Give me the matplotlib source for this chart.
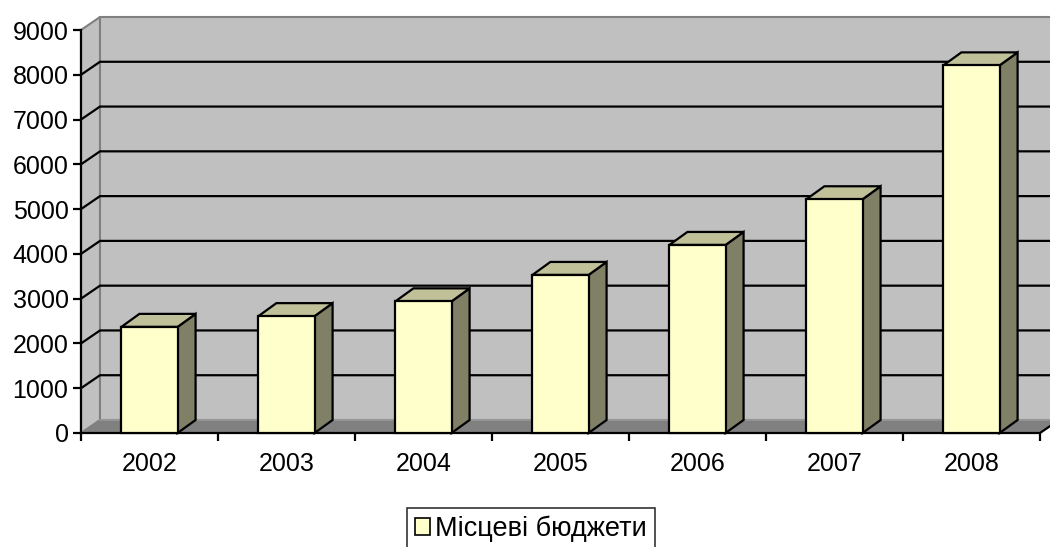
import matplotlib.pyplot as plt
from matplotlib.patches import Polygon, Rectangle, Patch

years = ["2002", "2003", "2004", "2005", "2006", "2007", "2008"]
values = [2370, 2610, 2940, 3530, 4200, 5220, 8210]
series_name = "Місцеві бюджети"

plt.rcParams['font.family'] = ['Liberation Sans', 'DejaVu Sans']

W, H = 1050, 547
fig = plt.figure(figsize=(W / 100, H / 100), dpi=100)
# front plane of the box in pixels: x 81..1040, y 433..30
ax = fig.add_axes([81 / W, 1 - 433 / H, 959 / W, 403 / H])
ymax = 9000
ax.set_xlim(0, len(years))
ax.set_ylim(0, ymax)
ax.patch.set_visible(False)

# depth offset (in data units) for walls and for the bars
dx = 19 / 137
dy = 13 / 403 * ymax
bdx = 18 / 137
bdy = 13 / 403 * ymax

wall = "#c0c0c0"
edge = "#808080"
lw = 1.5

# left wall
ax.add_patch(Polygon([(0, 0), (dx, dy), (dx, ymax + dy), (0, ymax)],
                     closed=True, facecolor=wall, edgecolor=edge, lw=lw, clip_on=False, zorder=1))
# back wall
ax.add_patch(Rectangle((dx, dy), len(years), ymax, facecolor=wall, edgecolor=edge,
                       lw=lw, clip_on=False, zorder=1))
# gridlines
for v in range(1000, ymax, 1000):
    ax.plot([0, dx, len(years) + dx], [v, v + dy, v + dy], color="black", lw=1.6,
            clip_on=False, zorder=2, solid_capstyle="butt")
# floor
n = len(years)
ax.add_patch(Polygon([(0, 0), (n, 0), (n + dx, dy), (dx, dy)], closed=True,
                     facecolor="#808080", edgecolor="none", clip_on=False, zorder=3))
ax.plot([0, n, n + dx], [0, 0, dy], color="black", lw=1.6, clip_on=False, zorder=4)
ax.plot([dx, n + dx], [dy, dy], color="#9a9a9a", lw=1.2, clip_on=False, zorder=3)

# bars
bw = 0.41
for i, v in enumerate(values):
    x0 = i + 0.5 - bw / 2
    x1 = x0 + bw
    ax.add_patch(Polygon([(x1, 0), (x1 + bdx, bdy), (x1 + bdx, v + bdy), (x1, v)], closed=True,
                         facecolor="#808066", edgecolor="black", lw=1.6, joinstyle="miter",
                         clip_on=False, zorder=5))
    ax.add_patch(Polygon([(x0, v), (x0 + bdx, v + bdy), (x1 + bdx, v + bdy), (x1, v)], closed=True,
                         facecolor="#c0c099", edgecolor="black", lw=1.6, joinstyle="miter",
                         clip_on=False, zorder=5))
    ax.add_patch(Rectangle((x0, 0), bw, v, facecolor="#ffffcc", edgecolor="black", lw=1.6,
                           joinstyle="miter", clip_on=False, zorder=6))

# axes
for s in ["top", "right", "bottom"]:
    ax.spines[s].set_visible(False)
ax.spines["left"].set_color("black")
ax.spines["left"].set_linewidth(1.6)
ax.spines["left"].set_zorder(7)

ax.set_yticks(range(0, ymax + 1, 1000))
ax.tick_params(axis="y", length=6, width=1.6, pad=3, labelsize=18, direction="out")
ax.set_xticks(range(0, n + 1))
ax.set_xticklabels([])
ax.set_xticks([i + 0.5 for i in range(n)], minor=True)
ax.set_xticklabels(years, minor=True)
ax.tick_params(axis="x", which="major", length=6, width=1.6, direction="out")
ax.tick_params(axis="x", which="minor", length=0, pad=13.5, labelsize=18)

handle = Patch(facecolor="#ffffcc", edgecolor="black", lw=1.2)
leg = fig.legend([handle], [series_name], loc="center",
                 bbox_to_anchor=(531 / W, 1 - 529 / H), fontsize=19.5, frameon=True,
                 fancybox=False, handlelength=0.55, handleheight=0.55, handletextpad=0.2,
                 borderpad=0.3, borderaxespad=0)
leg.get_frame().set_edgecolor("black")
leg.get_frame().set_linewidth(1.2)

fig.savefig("out.png", dpi=100)
